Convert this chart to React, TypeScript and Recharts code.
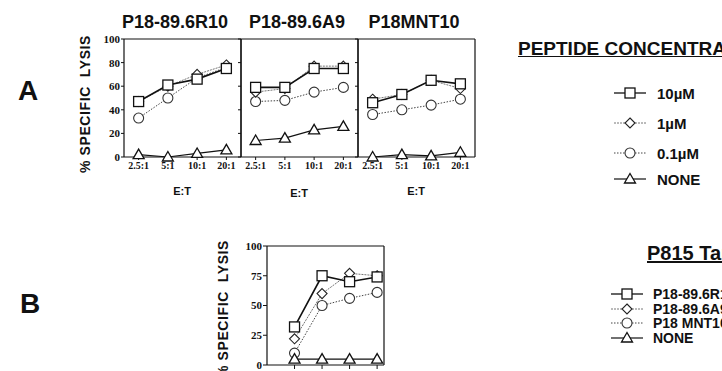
import React from "react";
import { LineChart, Line, XAxis, YAxis, ReferenceLine } from "recharts";

const SANS = "Arial, 'Liberation Sans', Helvetica, sans-serif";
const SERIF = "'Times New Roman', 'Liberation Serif', serif";

// E:T ratios (panel A) and their positions on the numeric x axis
const ratioLabels = ["2.5:1", "5:1", "10:1", "20:1"];
const ratioPos = [1, 2, 3, 4];
const lysisTicksA = [0, 20, 40, 60, 80, 100];
const lysisTicksB = [0, 25, 50, 75, 100];

// A: P18-89.6R10 target peptide
const r10Sq = [47, 61, 66, 75];
const r10Di = [47, 60, 70, 78];
const r10Ci = [33, 50, 67, 76];
const r10Tr = [2, 0, 3, 6];
// A: P18-89.6A9
const a9Sq = [59, 59, 75, 75];
const a9Di = [55, 58, 77, 77];
const a9Ci = [47, 48, 55, 59];
const a9Tr = [14, 16, 23, 26];
// A: P18MNT10
const mntSq = [46, 53, 65, 62];
const mntDi = [49, 53, 65, 58];
const mntCi = [36, 40, 44, 49];
const mntTr = [0, 2, 1, 4];
// B: P815 targets
const bSq = [32, 75, 70, 74];
const bDi = [22, 60, 77, 75];
const bCi = [10, 50, 56, 61];
const bTr = [5, 5, 5, 5];

const legendA = ["10\u00b5M", "1\u00b5M", "0.1\u00b5M", "NONE"];
const legendB = ["P18-89.6R10", "P18-89.6A9", "P18 MNT10", "NONE"];

function SquareDot({ cx, cy }: any) {
  if (cx == null || cy == null) return <g />;
  return <rect x={cx - 5} y={cy - 5} width={10} height={10} fill="#fff" stroke="#111" strokeWidth={1.3} />;
}
function DiamondDot({ cx, cy }: any) {
  if (cx == null || cy == null) return <g />;
  return <polygon points={`${cx},${cy - 5} ${cx + 5},${cy} ${cx},${cy + 5} ${cx - 5},${cy}`} fill="#fff" stroke="#222" strokeWidth={1.1} />;
}
function CircleDot({ cx, cy }: any) {
  if (cx == null || cy == null) return <g />;
  return <circle cx={cx} cy={cy} r={5} fill="#fff" stroke="#333" strokeWidth={1.1} />;
}
function TriangleDot({ cx, cy }: any) {
  if (cx == null || cy == null) return <g />;
  return <polygon points={`${cx},${cy - 5.5} ${cx + 5.5},${cy + 4} ${cx - 5.5},${cy + 4}`} fill="#fff" stroke="#111" strokeWidth={1.3} />;
}

const axisLine = { stroke: "#111", strokeWidth: 1.2 };
const tickLine = { stroke: "#111", strokeWidth: 1 };

function Series() {
  return [
    <Line key="ci" type="linear" dataKey="ci" stroke="#444" strokeWidth={1} strokeDasharray="1.5 1.5" dot={CircleDot} activeDot={false} isAnimationActive={false} />,
    <Line key="di" type="linear" dataKey="di" stroke="#777" strokeWidth={1} strokeDasharray="2 1" dot={DiamondDot} activeDot={false} isAnimationActive={false} />,
    <Line key="tr" type="linear" dataKey="tr" stroke="#111" strokeWidth={1.2} dot={TriangleDot} activeDot={false} isAnimationActive={false} />,
    <Line key="sq" type="linear" dataKey="sq" stroke="#111" strokeWidth={1.6} dot={SquareDot} activeDot={false} isAnimationActive={false} />,
  ];
}

function PanelA({ left, sq, di, ci, tr, showY }: { left: number; sq: number[]; di: number[]; ci: number[]; tr: number[]; showY: boolean }) {
  const rows = ratioPos.map((x, i) => ({ x, sq: sq[i], di: di[i], ci: ci[i], tr: tr[i] }));
  return (
    <div style={{ position: "absolute", left, top: 31 }}>
      <LineChart width={151} height={152} data={rows} margin={{ top: 8, right: 4, bottom: 0, left: 0 }}>
        <XAxis
          dataKey="x"
          type="number"
          domain={[0.5, 4.5]}
          ticks={ratioPos}
          tickFormatter={(v: number) => ratioLabels[v - 1]}
          axisLine={axisLine}
          tickLine={tickLine}
          tickSize={3}
          tickMargin={2}
          height={26}
          tick={{ fill: "#111", fontSize: 10, fontFamily: SERIF, fontWeight: "bold" }}
        />
        <YAxis
          type="number"
          domain={[0, 100]}
          ticks={lysisTicksA}
          width={30}
          axisLine={axisLine}
          tickLine={tickLine}
          tickSize={3}
          tickMargin={1}
          tickFormatter={(v: number) => (showY ? String(v) : "")}
          tick={{ fill: "#111", fontSize: 11, fontFamily: SERIF, fontWeight: "bold" }}
        />
        <ReferenceLine y={100} stroke="#111" strokeWidth={1.2} />
        <ReferenceLine x={4.5} stroke="#111" strokeWidth={1.2} />
        {Series()}
      </LineChart>
    </div>
  );
}

function PanelB() {
  const rows = ratioPos.map((x, i) => ({ x, sq: bSq[i], di: bDi[i], ci: bCi[i], tr: bTr[i] }));
  return (
    <div style={{ position: "absolute", left: 235, top: 238 }}>
      <LineChart width={153} height={133} data={rows} margin={{ top: 8, right: 4, bottom: 0, left: 0 }}>
        <XAxis
          dataKey="x"
          type="number"
          domain={[0, 4.25]}
          ticks={ratioPos}
          tickFormatter={() => ""}
          axisLine={axisLine}
          tickLine={tickLine}
          tickSize={4}
          height={6}
        />
        <YAxis
          type="number"
          domain={[0, 100]}
          ticks={lysisTicksB}
          width={32}
          axisLine={axisLine}
          tickLine={tickLine}
          tickSize={4}
          tickMargin={1}
          tick={{ fill: "#111", fontSize: 11, fontFamily: SERIF, fontWeight: "bold" }}
        />
        <ReferenceLine y={100} stroke="#111" strokeWidth={1.2} />
        <ReferenceLine x={4.25} stroke="#111" strokeWidth={1.2} />
        {Series()}
      </LineChart>
    </div>
  );
}

function Txt({ x, y, size, children, center, underline }: any) {
  return (
    <div
      style={{
        position: "absolute",
        left: x,
        top: y - size / 2,
        fontFamily: SANS,
        fontWeight: "bold",
        fontSize: size,
        lineHeight: `${size}px`,
        whiteSpace: "nowrap",
        color: "#111",
        transform: center ? "translateX(-50%)" : undefined,
        textDecoration: underline ? "underline" : undefined,
      }}
    >
      {children}
    </div>
  );
}

function VLabel({ x, y }: { x: number; y: number }) {
  return (
    <div
      style={{
        position: "absolute",
        left: x,
        top: y,
        transform: "translate(-50%, -50%) rotate(-90deg)",
        fontFamily: SANS,
        fontWeight: "bold",
        fontSize: 14,
        letterSpacing: 0.6,
        whiteSpace: "nowrap",
        color: "#111",
      }}
    >
      % SPECIFIC&nbsp; LYSIS
    </div>
  );
}

function LegendIcon({ kind }: { kind: number }) {
  const line = [
    { stroke: "#111", dash: undefined, w: 1.3 },
    { stroke: "#777", dash: "2 1", w: 1 },
    { stroke: "#444", dash: "1.5 1.5", w: 1 },
    { stroke: "#111", dash: undefined, w: 1.2 },
  ][kind];
  const cx = 16;
  const cy = 7;
  const dots = [SquareDot, DiamondDot, CircleDot, TriangleDot];
  const Dot = dots[kind];
  return (
    <svg width={34} height={14} style={{ display: "block" }}>
      <line x1={0} y1={cy} x2={32} y2={cy} stroke={line.stroke} strokeWidth={line.w} strokeDasharray={line.dash} />
      <Dot cx={cx} cy={cy} />
    </svg>
  );
}

function LegendBlock({ iconX, textX, ys, labels, size }: { iconX: number; textX: number; ys: number[]; labels: string[]; size: number }) {
  return (
    <>
      {labels.map((l, i) => (
        <React.Fragment key={l + i}>
          <div style={{ position: "absolute", left: iconX - 16, top: ys[i] - 7 }}>
            <LegendIcon kind={i} />
          </div>
          <Txt x={textX} y={ys[i]} size={size}>
            {l}
          </Txt>
        </React.Fragment>
      ))}
    </>
  );
}

export default function App() {
  return (
    <div style={{ position: "fixed", left: 0, top: 0, width: 722, height: 371, overflow: "hidden", background: "#fff" }}>
      <Txt x={18} y={91} size={28}>A</Txt>
      <Txt x={20} y={304} size={28}>B</Txt>

      <Txt x={175} y={22} size={18} center>P18-89.6R10</Txt>
      <Txt x={297} y={22} size={18} center>P18-89.6A9</Txt>
      <Txt x={414} y={22} size={18} center>P18MNT10</Txt>

      <VLabel x={85} y={104} />
      <PanelA left={94} sq={r10Sq} di={r10Di} ci={r10Ci} tr={r10Tr} showY />
      <PanelA left={211} sq={a9Sq} di={a9Di} ci={a9Ci} tr={a9Tr} showY={false} />
      <PanelA left={328} sq={mntSq} di={mntDi} ci={mntCi} tr={mntTr} showY={false} />

      <Txt x={182} y={191} size={11} center>E:T</Txt>
      <Txt x={299} y={193} size={11} center>E:T</Txt>
      <Txt x={416} y={191} size={11} center>E:T</Txt>

      <Txt x={518} y={48} size={19} underline>PEPTIDE CONCENTRATION</Txt>
      <LegendBlock iconX={630} textX={657} ys={[93, 123, 153, 179]} labels={legendA} size={15} />

      <VLabel x={223} y={309} />
      <PanelB />

      <Txt x={647} y={253} size={20} underline>P815 Targets</Txt>
      <LegendBlock iconX={627} textX={653} ys={[294, 308.5, 323, 337.5]} labels={legendB} size={14} />
    </div>
  );
}
